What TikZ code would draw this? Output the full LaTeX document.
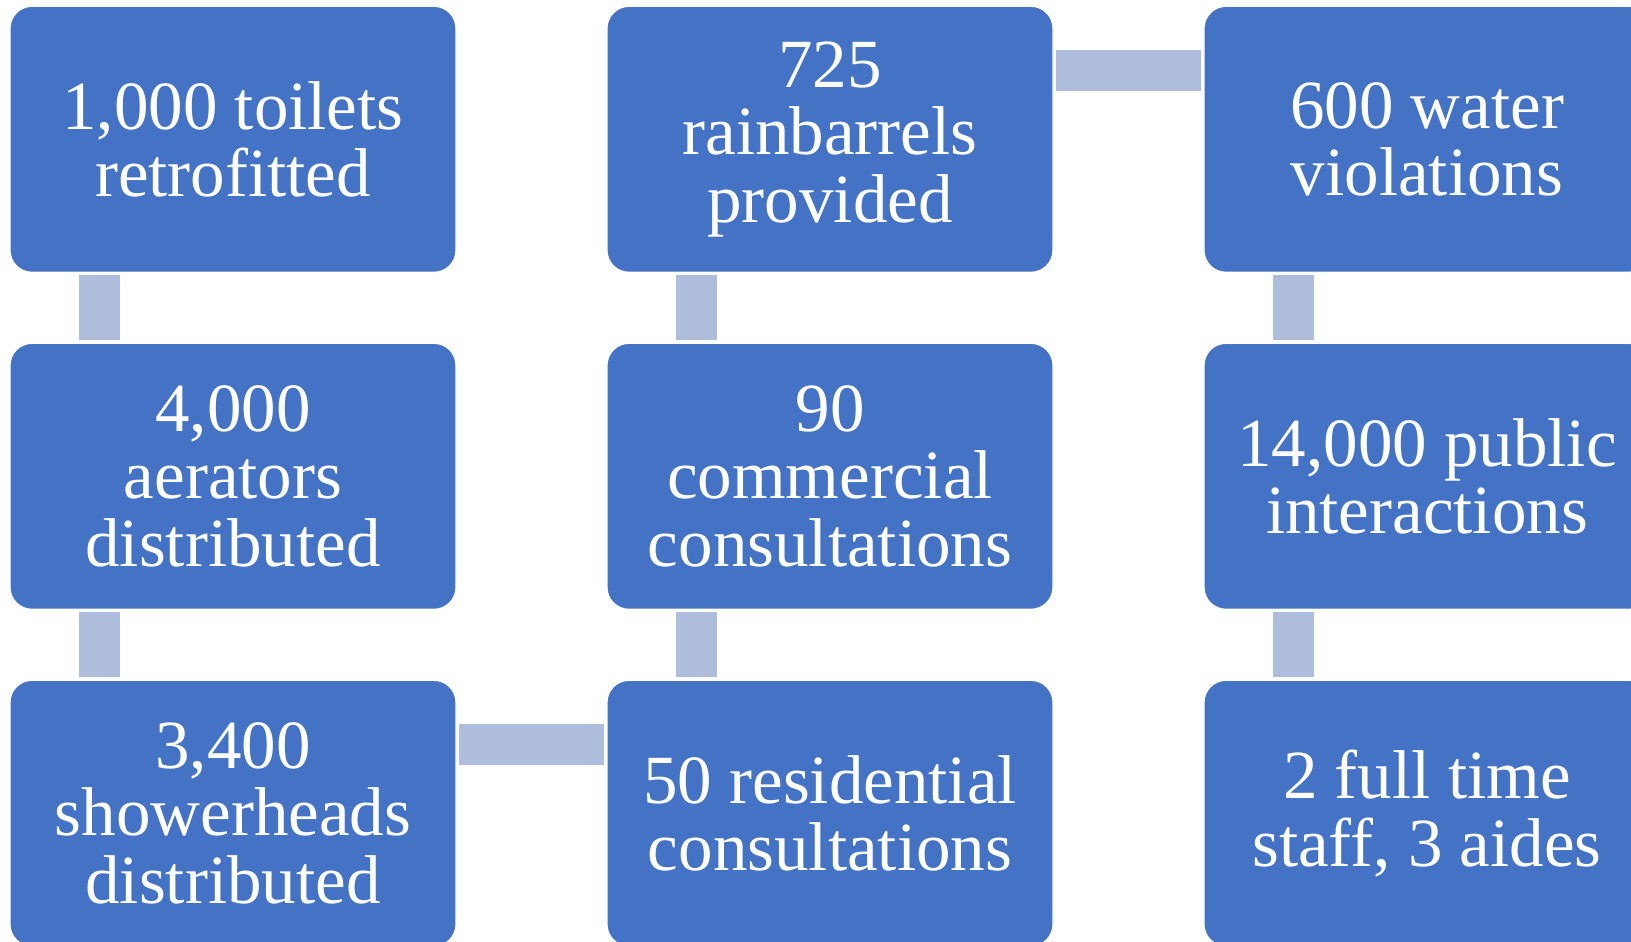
\documentclass[tikz,border=0pt]{standalone}
\usepackage{fontspec}
\setmainfont{Liberation Serif}
\usepackage{xcolor}
\usetikzlibrary{positioning}
\definecolor{boxblue}{HTML}{4472C4}
\definecolor{linkblue}{HTML}{AFBDDD}

\begin{document}
\begin{tikzpicture}[
  x=1pt, y=-1pt,
  box/.style={rectangle, rounded corners=22pt, draw=white, line width=1.2pt,
              fill=boxblue, text=white, align=center, outer sep=0pt,
              minimum width=446pt, minimum height=266pt,
              font=\fontsize{69}{67.5}\selectfont},
  link/.style={draw=linkblue, line width=41pt, line cap=butt,
               shorten <=3pt, shorten >=3pt},
  node distance=71pt and 151pt,
]
\useasboundingbox (0,0) rectangle (1631,942);

% first column, top to bottom
\node[box] (toilets) at (233,139.3) {1,000 toilets\\retrofitted};
\node[box, below=of toilets] (aerators) {4,000\\aerators\\distributed};
\node[box, below=of aerators] (shower) {3,400\\showerheads\\distributed};

% second column, bottom to top
\node[box, right=of shower] (resid) {50 residential\\consultations};
\node[box, above=of resid] (comm) {90\\commercial\\consultations};
\node[box, above=of comm] (rain) {725\\rainbarrels\\provided};

% third column, top to bottom
\node[box, right=of rain] (violations) {600 water\\violations};
\node[box, below=of violations] (public) {14,000 public\\interactions};
\node[box, below=of public] (staff) {2 full time\\staff, 3 aides};

% connectors
\draw[link] ([xshift=-133.5pt]toilets.south) -- ([xshift=-133.5pt]aerators.north);
\draw[link] ([xshift=-133.5pt]aerators.south) -- ([xshift=-133.5pt]shower.north);
\draw[link] ([yshift=68.5pt]shower.east) -- ([yshift=68.5pt]resid.west);
\draw[link] ([xshift=-133.5pt]resid.north) -- ([xshift=-133.5pt]comm.south);
\draw[link] ([xshift=-133.5pt]comm.north) -- ([xshift=-133.5pt]rain.south);
\draw[link] ([yshift=68.5pt]rain.east) -- ([yshift=68.5pt]violations.west);
\draw[link] ([xshift=-133.5pt]violations.south) -- ([xshift=-133.5pt]public.north);
\draw[link] ([xshift=-133.5pt]public.south) -- ([xshift=-133.5pt]staff.north);
\end{tikzpicture}
\end{document}
